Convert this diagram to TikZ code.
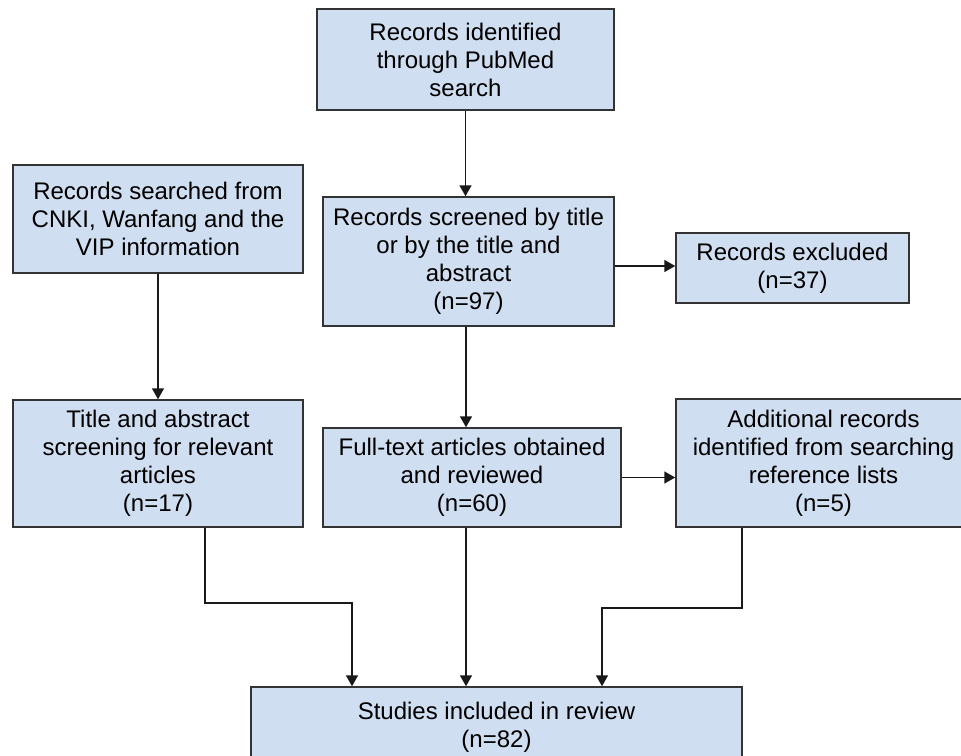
\documentclass[tikz,border=0pt]{standalone}
\usepackage{fontspec}
\setmainfont{Liberation Sans}
\usetikzlibrary{arrows.meta}
\definecolor{boxblue}{RGB}{207,222,240}
\tikzset{
  flowbox/.style={draw=black!80,line width=1.5pt,fill=boxblue,inner sep=0pt,
    align=center,font=\fontsize{24}{28}\selectfont},
  arr/.style={-{Triangle[width=12pt,length=11pt]},line width=1.6pt,draw=black!90}
}
\begin{document}
\begin{tikzpicture}[x=1pt,y=-1pt]
\useasboundingbox(0,0)rectangle(961,755);
\node[flowbox,minimum width=297,minimum height=101](pubmed)at(465.5,59.5){Records identified\\through PubMed\\search};
\node[flowbox,minimum width=291,minimum height=129](screen)at(468.5,261.5){Records screened by title\\or by the title and\\abstract\\(n=97)};
\node[flowbox,minimum width=233,minimum height=70](excl)at(792.5,268){Records excluded\\(n=37)};
\node[flowbox,minimum width=290,minimum height=108](cnki)at(158,219){Records searched from\\CNKI, Wanfang and the\\VIP information};
\node[flowbox,minimum width=290,minimum height=127](title)at(158,463.5){Title and abstract\\screening for relevant\\articles\\(n=17)};
\node[flowbox,minimum width=298,minimum height=99](full)at(472,477.5){Full-text articles obtained\\and reviewed\\(n=60)};
\node[flowbox,minimum width=295,minimum height=128](addl)at(823.5,463){Additional records\\identified from searching\\reference lists\\(n=5)};
\node[flowbox,minimum width=491,minimum height=80](incl)at(496.5,727){Studies included in review\\(n=82)};
% connectors
\draw[arr](pubmed.south)--(pubmed.south|-screen.north);
\draw[arr](screen.east|-0,266)--(excl.west|-0,266);
\draw[arr](cnki)--(title);
\draw[arr](screen.south-|466,0)--(full.north-|466,0);
\draw[arr](full.east)--(full.east-|addl.west);
\draw[arr]([xshift=47pt]title.south)|-([xshift=-144.5pt,yshift=83pt]incl.north)--([xshift=-144.5pt]incl.north);
\draw[arr](full.south-|466,0)--(incl.north-|466,0);
\draw[arr]([xshift=-81.5pt]addl.south)|-([xshift=105.5pt,yshift=78pt]incl.north)--([xshift=105.5pt]incl.north);
\end{tikzpicture}
\end{document}
